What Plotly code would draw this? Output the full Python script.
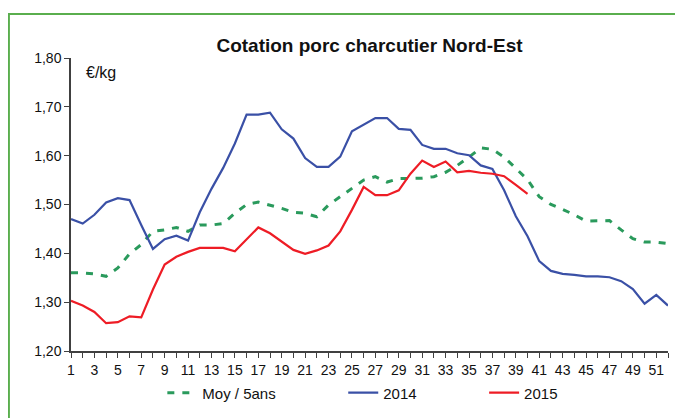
import plotly.graph_objects as go

# weekly quotations, €/kg
weeks = list(range(1, 53))

moy_5ans = [1.360, 1.360, 1.358, 1.353, 1.370, 1.399, 1.418, 1.445, 1.448, 1.453,
            1.445, 1.458, 1.458, 1.461, 1.482, 1.500, 1.505, 1.499, 1.492, 1.484,
            1.482, 1.475, 1.499, 1.516, 1.533, 1.550, 1.557, 1.546, 1.553, 1.554,
            1.554, 1.557, 1.566, 1.580, 1.597, 1.616, 1.613, 1.597, 1.574, 1.551,
            1.516, 1.500, 1.490, 1.479, 1.466, 1.467, 1.467, 1.448, 1.430, 1.423,
            1.423, 1.420]

y2014 = [1.470, 1.461, 1.479, 1.504, 1.513, 1.509, 1.458, 1.409, 1.429, 1.436,
         1.426, 1.484, 1.532, 1.575, 1.625, 1.684, 1.684, 1.688, 1.654, 1.635,
         1.595, 1.577, 1.577, 1.598, 1.650, 1.663, 1.677, 1.677, 1.655, 1.653,
         1.622, 1.614, 1.614, 1.605, 1.601, 1.580, 1.573, 1.529, 1.476, 1.435,
         1.384, 1.364, 1.358, 1.356, 1.353, 1.353, 1.351, 1.343, 1.327, 1.297,
         1.315, 1.293]

y2015 = [1.303, 1.293, 1.280, 1.257, 1.259, 1.271, 1.269, 1.326, 1.377, 1.393,
         1.403, 1.411, 1.411, 1.411, 1.404, 1.428, 1.453, 1.441, 1.424, 1.407,
         1.399, 1.406, 1.416, 1.445, 1.489, 1.536, 1.519, 1.519, 1.529, 1.563,
         1.590, 1.577, 1.588, 1.566, 1.569, 1.565, 1.563, 1.558, 1.540, 1.522]

y_ticks = [1.20, 1.30, 1.40, 1.50, 1.60, 1.70, 1.80]
y_ticktext = ["1,20", "1,30", "1,40", "1,50", "1,60", "1,70", "1,80"]
x_ticks = list(range(1, 53, 2))

pad = '\u00a0' * 15  # spacing between legend entries

fig = go.Figure()

fig.add_trace(go.Scatter(
    x=weeks, y=moy_5ans, mode='lines', name='Moy / 5ans' + pad,
    line=dict(color='#2a9a5c', width=3, dash='7px,8px')
))
fig.add_trace(go.Scatter(
    x=weeks, y=y2014, mode='lines', name='2014' + pad,
    line=dict(color='#3a50a6', width=2.2)
))
fig.add_trace(go.Scatter(
    x=weeks[:len(y2015)], y=y2015, mode='lines', name='2015',
    line=dict(color='#ee1c25', width=2.2)
))

# green frame around the chart
fig.add_shape(type='rect', xref='paper', yref='paper',
              x0=-0.104, x1=2.0, y0=-1.0, y1=1.150,
              line=dict(color='#5aae4e', width=2), fillcolor='rgba(0,0,0,0)',
              layer='below')

fig.add_annotation(text='€/kg', xref='paper', yref='paper',
                   x=0.022, y=0.949, xanchor='left', yanchor='middle',
                   showarrow=False, font=dict(size=16, color='#111'))

fig.update_layout(
    width=675, height=410,
    margin=dict(l=63, r=15, t=50, b=67, autoexpand=False),
    paper_bgcolor='white', plot_bgcolor='white',
    font=dict(family='Liberation Sans, Arial, sans-serif', size=14, color='#111'),
    title=dict(text='<b>Cotation porc charcutier Nord-Est</b>',
               x=0.5, xanchor='center', xref='paper',
               y=0.91, yanchor='middle', font=dict(size=19, color='#111')),
    showlegend=True,
    legend=dict(orientation='h', x=0.153, y=-0.143, xanchor='left', yanchor='middle',
                font=dict(size=15), bgcolor='rgba(0,0,0,0)'),
    xaxis=dict(range=[1, 52], tickvals=x_ticks, ticks='outside', ticklen=5,
               showgrid=False, zeroline=False, showline=True,
               linecolor='#404040', linewidth=1.5, tickcolor='#404040',
               minor=dict(dtick=1, tick0=1, ticks='outside', ticklen=5, tickcolor='#404040'),
               tickfont=dict(size=14)),
    yaxis=dict(range=[1.20, 1.80], tickvals=y_ticks, ticktext=y_ticktext,
               ticks='outside', ticklen=5, showgrid=False, zeroline=False,
               showline=True, linecolor='#404040', linewidth=1.5, tickcolor='#404040',
               tickfont=dict(size=14)),
)

fig.write_html("out.html")
